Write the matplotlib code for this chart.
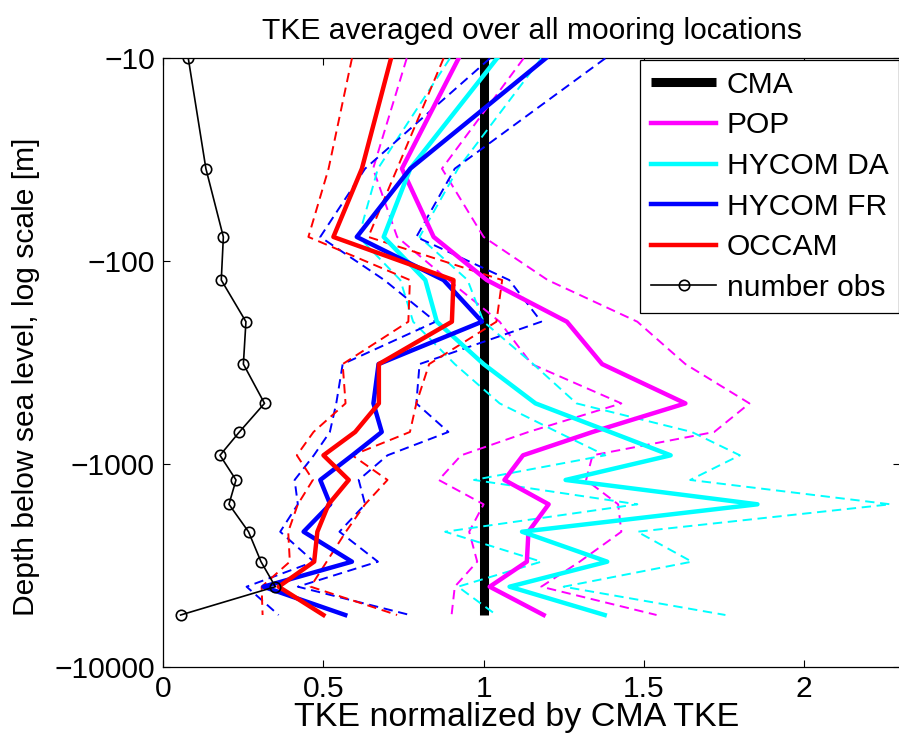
import matplotlib
matplotlib.use("Agg")
import matplotlib.pyplot as plt
from matplotlib.ticker import FixedLocator, FixedFormatter, NullLocator

# ---------------- data ----------------
depth = [10, 35, 76, 124, 199, 322, 503, 696, 907, 1200, 1582, 2160, 3035, 4032, 5560]

cma = [1.0] * len(depth)

pop = [0.922, 0.745, 0.844, 1.01, 1.26, 1.37, 1.63, 1.34, 1.123, 1.065, 1.203, 1.14, 1.135, 1.019, 1.1875]
pop_lo = [0.76, 0.655, 0.73, 0.89, 1.05, 1.15, 1.43, 1.14, 0.93, 0.86, 1.0, 0.955, 0.98, 0.91, 0.9]
pop_hi = [1.125, 0.87, 1.0, 1.2, 1.48, 1.63, 1.83, 1.72, 1.34, 1.32, 1.42, 1.43, 1.30, 1.18, 1.54]

hycom_da = [1.042, 0.771, 0.688, 0.818, 0.854, 1.0, 1.162, 1.395, 1.584, 1.256, 1.855, 1.12, 1.386, 1.081, 1.378]
hycom_da_lo = [0.895, 0.67, 0.61, 0.74, 0.78, 0.91, 1.05, 1.23, 1.38, 0.97, 1.48, 0.88, 1.18, 0.92, 1.04]
hycom_da_hi = [1.18, 0.92, 0.80, 0.95, 1.0, 1.155, 1.29, 1.65, 1.8, 1.645, 2.27, 1.48, 1.65, 1.25, 1.755]

hycom_fr = [1.194, 0.771, 0.604, 0.875, 0.995, 0.672, 0.656, 0.682, 0.59, 0.49, 0.521, 0.438, 0.589, 0.3125, 0.568]
hycom_fr_lo = [1.02, 0.63, 0.49, 0.69, 0.85, 0.56, 0.54, 0.52, 0.47, 0.41, 0.42, 0.365, 0.47, 0.26, 0.36]
hycom_fr_hi = [1.38, 0.91, 0.79, 1.08, 1.18, 0.80, 0.79, 0.89, 0.70, 0.61, 0.63, 0.55, 0.67, 0.42, 0.77]

occam = [0.711, 0.62, 0.531, 0.906, 0.901, 0.673, 0.673, 0.599, 0.5, 0.579, 0.516, 0.481, 0.471, 0.36, 0.5]
occam_lo = [0.589, 0.516, 0.453, 0.77, 0.765, 0.56, 0.569, 0.469, 0.417, 0.467, 0.42, 0.39, 0.395, 0.307, 0.31]
occam_hi = [0.875, 0.73, 0.64, 1.058, 1.04, 0.83, 0.79, 0.77, 0.59, 0.70, 0.63, 0.57, 0.51, 0.46, 0.73]

nobs = [0.078, 0.133, 0.1875, 0.181, 0.258, 0.25, 0.316, 0.2375, 0.177, 0.227, 0.205, 0.266, 0.305, 0.35, 0.054]

yticks = [10, 100, 1000, 10000]
ytick_labels = ["\u221210", "\u2212100", "\u22121000", "\u221210000"]
xticks = [0, 0.5, 1, 1.5, 2]
xtick_labels = ["0", "0.5", "1", "1.5", "2"]

# ---------------- figure ----------------
plt.rcParams['font.family'] = ['Liberation Sans', 'DejaVu Sans']
FS = 21.6

W, H = 899, 742
fig = plt.figure(figsize=(W / 100, H / 100), dpi=100)
left_px, right_px, top_px, bot_px = 163.3, 900.0, 58.3, 666.7
ax = fig.add_axes([left_px / W, 1 - bot_px / H, (right_px - left_px) / W, (bot_px - top_px) / H])

dash = (0, (4.8, 2.9))
lw_s = 3.2
lw_d = 1.4

# CMA reference
ax.plot(cma, depth, color='black', lw=6.5, label='CMA', solid_capstyle='butt', zorder=2)

# dashed bounds
for lo, hi, c in [(pop_lo, pop_hi, 'magenta'), (hycom_da_lo, hycom_da_hi, 'cyan'),
                  (hycom_fr_lo, hycom_fr_hi, 'blue'), (occam_lo, occam_hi, 'red')]:
    ax.plot(lo, depth, color=c, lw=lw_d, ls=dash, zorder=3)
    ax.plot(hi, depth, color=c, lw=lw_d, ls=dash, zorder=3)

# solid means
ax.plot(pop, depth, color='magenta', lw=lw_s, label='POP', zorder=4)
ax.plot(hycom_da, depth, color='cyan', lw=lw_s, label='HYCOM DA', zorder=4)
ax.plot(hycom_fr, depth, color='blue', lw=lw_s, label='HYCOM FR', zorder=4)
ax.plot(occam, depth, color='red', lw=lw_s, label='OCCAM', zorder=4)

ax.plot(nobs, depth, color='black', lw=1.2, marker='o', ms=7.5, mfc='none', mec='black',
        mew=1.2, label='number obs', zorder=5)

ax.set_yscale('log')
ax.set_ylim(10000, 10)
ax.set_xlim(0, 2.3)
ax.yaxis.set_major_locator(FixedLocator(yticks))
ax.yaxis.set_major_formatter(FixedFormatter(ytick_labels))
ax.yaxis.set_minor_locator(NullLocator())
ax.xaxis.set_major_locator(FixedLocator(xticks))
ax.xaxis.set_major_formatter(FixedFormatter(xtick_labels))

ax.tick_params(axis='both', which='major', direction='in', length=5, width=0.8,
               top=True, right=True, labelsize=FS, pad=6)
for s in ax.spines.values():
    s.set_linewidth(0.9)

ax.set_title('TKE averaged over all mooring locations', fontsize=FS, pad=14)
ax.set_xlabel('TKE normalized by CMA TKE', fontsize=24.5)
ax.xaxis.set_label_coords(0.479, -0.058)
ax.set_ylabel('Depth below sea level, log scale [m]', fontsize=FS)
ax.yaxis.set_label_coords(-0.167, 0.476)

leg = ax.legend(loc='upper left', bbox_to_anchor=(640 / W, 1 - 60 / H),
                bbox_transform=fig.transFigure, fontsize=FS, frameon=True, fancybox=False,
                borderaxespad=0, borderpad=0.36, handlelength=2.18, handletextpad=0.35,
                labelspacing=0.42, framealpha=1)
leg.get_frame().set_edgecolor('black')
leg.get_frame().set_linewidth(0.9)

fig.savefig('out.png', dpi=100)
